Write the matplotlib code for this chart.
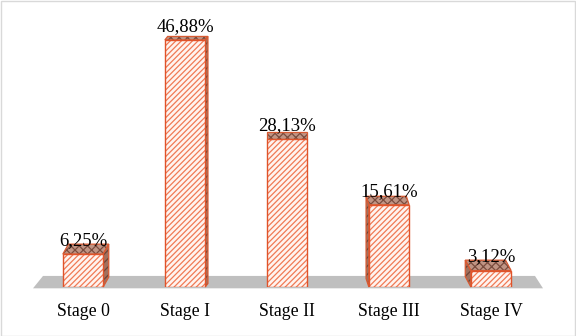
import matplotlib
matplotlib.use("Agg")
import matplotlib.pyplot as plt
from matplotlib.patches import Polygon, Rectangle

categories = ["Stage 0", "Stage I", "Stage II", "Stage III", "Stage IV"]
values = [6.25, 46.88, 28.13, 15.61, 3.12]
value_labels = ["6,25%", "46,88%", "28,13%", "15,61%", "3,12%"]

plt.rcParams['font.family'] = ['Liberation Serif', 'DejaVu Serif']
plt.rcParams['hatch.linewidth'] = 0.9

W, H = 576, 336
fig = plt.figure(figsize=(W / 100, H / 100), dpi=100)
fig.patch.set_facecolor('white')
fig.add_artist(Rectangle((0.5 / W, 0.5 / H), 1 - 1.5 / W, 1 - 1.5 / H, transform=fig.transFigure,
                         fill=False, edgecolor='#d9d9d9', linewidth=1.0))

ax_w_px = 510.0
ax_h_px = 263.5
ax_left = 32.0
ax = fig.add_axes([ax_left / W, 49 / H, ax_w_px / W, ax_h_px / H])
ax.set_xlim(-0.5, 4.5)
ax.set_ylim(0, 50)
ax.axis('off')

pxx = ax_w_px / 5.0
pxy = ax_h_px / 50.0

# floor
fx = lambda px: (px - ax_left) / pxx - 0.5
floor = Polygon([(fx(33), -0.25), (fx(543), -0.25), (fx(535), 2.1), (fx(43), 2.1)],
                closed=True, facecolor='#bfbfbf', edgecolor='none', clip_on=False, zorder=1)
ax.add_patch(floor)


def face(pts, fc, hc, hatch):
    ax.add_patch(Polygon(pts, closed=True, facecolor=fc, edgecolor=hc, hatch=hatch,
                         linewidth=0, zorder=2, clip_on=False))
    ax.add_patch(Polygon(pts, closed=True, fill=False, edgecolor='#d85a32',
                         linewidth=0.9, zorder=2.5, clip_on=False))


hatch_col = '#f07a55'
outline_col = '#e0532a'
bw = 0.395
for i, (v, lab) in enumerate(zip(values, value_labels)):
    x0, x1 = i - bw / 2, i + bw / 2
    dx = (2 - i) * 2.8 / pxx
    top_px = 287 - v * pxy
    dy = (2.3 + 0.03 * top_px) / pxy
    if dx > 0:
        side = [(x1, 0), (x1 + dx, dy), (x1 + dx, v + dy), (x1, v)]
    elif dx < 0:
        side = [(x0, 0), (x0 + dx, dy), (x0 + dx, v + dy), (x0, v)]
    else:
        side = None
    if side is not None:
        face(side, '#a0705e', '#6e4436', '////')
    top = [(x0, v), (x1, v), (x1 + dx, v + dy), (x0 + dx, v + dy)]
    face(top, '#c09484', '#7a4c3e', 'xxxx')
    ax.bar(i, v, width=bw, color='#fff4f0', edgecolor=hatch_col, hatch='//////',
           linewidth=0, zorder=3)
    ax.bar(i, v, width=bw, fill=False, edgecolor=outline_col, linewidth=1.0, zorder=4)
    ax.text(i, v + 9 / pxy, lab, ha='center', va='baseline', fontsize=13.5,
            color='black', zorder=5, clip_on=False)
    ax.text(i, -4.6, categories[i], ha='center', va='center', fontsize=12.8,
            color='black', clip_on=False)

fig.savefig('out.png', dpi=100)
